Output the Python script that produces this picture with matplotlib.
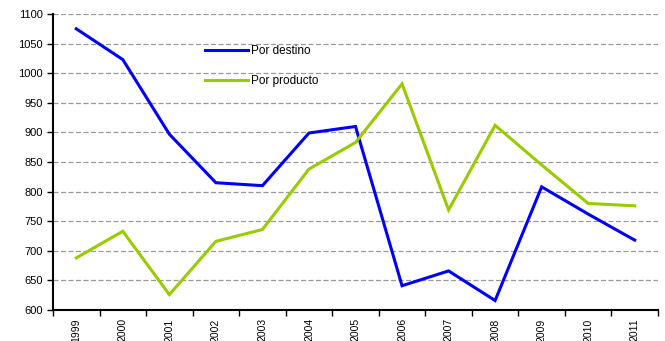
import matplotlib
matplotlib.use("Agg")
import matplotlib.pyplot as plt
import numpy as np

years = ["1999", "2000", "2001", "2002", "2003", "2004", "2005",
         "2006", "2007", "2008", "2009", "2010", "2011"]
por_destino = [1075, 1023, 897, 815, 810, 899, 910, 641, 666, 616, 808, 762, 718]
por_producto = [688, 733, 626, 716, 736, 838, 883, 982, 769, 912, 845, 780, 776]

plt.rcParams['font.family'] = ['Liberation Sans', 'DejaVu Sans']

fig = plt.figure(figsize=(6.65, 3.41), dpi=100)
ax = fig.add_axes([53/665, 1-310/341, (658-53)/665, (310-14)/341])

x = np.arange(len(years))
ax.plot(x, por_destino, color='#0000FF', lw=2.2, label='Por destino', solid_joinstyle='miter')
ax.plot(x, por_producto, color='#99CC00', lw=2.2, label='Por producto', solid_joinstyle='miter')

ax.set_ylim(600, 1100)
ax.set_yticks(np.arange(600, 1101, 50))
ax.set_xlim(-0.5, len(years) - 0.5)
ax.set_xticks(x)
ax.set_xticklabels(years, rotation=90, fontsize=7.5)
ax.set_xticks(np.arange(-0.5, len(years), 1), minor=True)
ax.tick_params(axis='x', which='major', length=0, pad=6)
ax.tick_params(axis='x', which='minor', length=4, width=1, direction='out')
ax.tick_params(axis='y', length=4, width=1, labelsize=8)

ax.yaxis.grid(True, color='#999999', linestyle=(0, (4, 2)), linewidth=0.9)
ax.set_axisbelow(True)
for s in ['top', 'right']:
    ax.spines[s].set_visible(False)
ax.spines['left'].set_linewidth(1.5)
ax.spines['bottom'].set_linewidth(1.5)

leg = ax.legend(loc='upper left', bbox_to_anchor=(0.251, 0.896), frameon=False,
                fontsize=8.5, handlelength=3.65, handletextpad=0.22,
                labelspacing=1.55, borderaxespad=0, borderpad=0)

fig.savefig('out.png', dpi=100)
